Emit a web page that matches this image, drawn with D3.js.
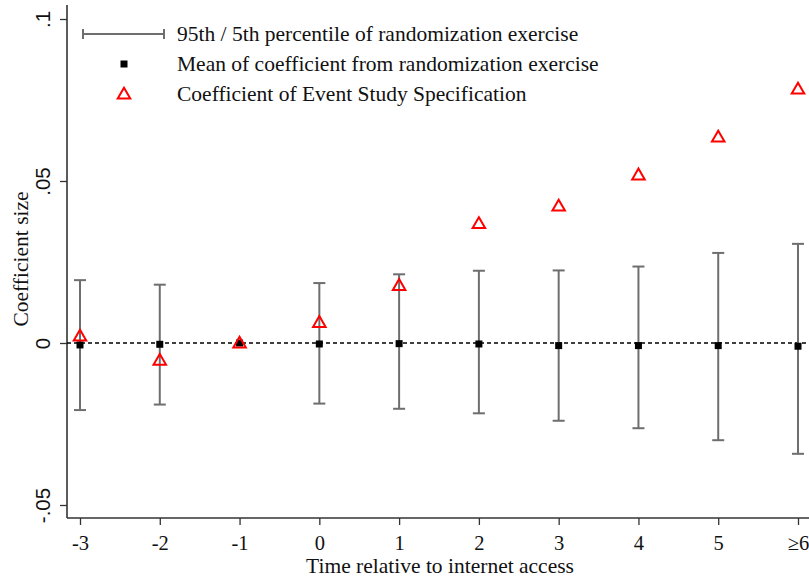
<!DOCTYPE html>
<html>
<head>
<meta charset="utf-8">
<script src="https://cdn.jsdelivr.net/npm/d3@7"></script>
<style>
  html, body { margin: 0; padding: 0; background: #fff; }
  svg { display: block; font-family: "Liberation Serif", "Times New Roman", serif; }
</style>
</head>
<body>
<svg id="chart" width="809" height="578"></svg>
<script>
// Periods relative to internet access
const categories = ["-3", "-2", "-1", "0", "1", "2", "3", "4", "5", "≥6"];
// Randomization exercise: 95th / 5th percentiles and mean coefficient (-1 is the omitted period)
const upper95 = [0.0194, 0.0180, null, 0.0185, 0.0212, 0.0223, 0.0224, 0.0236, 0.0278, 0.0306];
const lower5  = [-0.0207, -0.0190, null, -0.0187, -0.0203, -0.0217, -0.0240, -0.0263, -0.0300, -0.0342];
const meanCoef = [-0.0006, -0.0004, 0, -0.0003, -0.0002, -0.0003, -0.0008, -0.0008, -0.0008, -0.0010];
// Event study coefficients
const eventCoef = [0.0022, -0.0053, 0, 0.0064, 0.0178, 0.0369, 0.0423, 0.0519, 0.0636, 0.0784];
// Y axis ticks
const yTicks = [-0.05, 0, 0.05, 0.1];
const yTickLabels = ["-.05", "0", ".05", ".1"];

const svg = d3.select("#chart");
const W = 809, H = 578;
const axisX = 67, axisY = 518;
const fs = 20.5;
const fsTitle = 21.5;

const x = d3.scalePoint().domain(categories).range([80, 798]);
const y = d3.scaleLinear().domain([-0.05, 0.1]).range([505, 19]);

const axisColor = "#333";
const barColor = "#6e6e6e";

// Y axis
const yAxis = svg.append("g").attr("transform", `translate(${axisX},0)`)
  .call(d3.axisLeft(y).tickValues(yTicks).tickSize(7).tickSizeOuter(0)
    .tickFormat((d, i) => yTickLabels[i]));
yAxis.select(".domain").remove();
yAxis.selectAll(".tick line").attr("stroke", axisColor).attr("stroke-width", 1.3);
yAxis.selectAll(".tick text").remove();
yAxis.selectAll(".tick").append("text")
  .attr("transform", "translate(-17,0) rotate(-90)")
  .attr("text-anchor", "middle")
  .attr("fill", "#111")
  .attr("font-size", fs)
  .text((d, i) => yTickLabels[i]);
svg.append("line").attr("x1", axisX).attr("x2", axisX).attr("y1", 5).attr("y2", axisY)
  .attr("stroke", axisColor).attr("stroke-width", 1.6);

// X axis
const xAxis = svg.append("g").attr("transform", `translate(0,${axisY})`)
  .call(d3.axisBottom(x).tickSize(7).tickSizeOuter(0));
xAxis.select(".domain").remove();
xAxis.selectAll(".tick line").attr("stroke", axisColor).attr("stroke-width", 1.3);
xAxis.selectAll(".tick text").attr("font-size", fs).attr("fill", "#111")
  .attr("font-family", "Liberation Serif").attr("dy", "1.05em");
svg.append("line").attr("x1", axisX).attr("x2", W).attr("y1", axisY).attr("y2", axisY)
  .attr("stroke", axisColor).attr("stroke-width", 1.6);

// Axis titles
svg.append("text").attr("x", 440).attr("y", 573).attr("text-anchor", "middle")
  .attr("font-size", fsTitle).attr("fill", "#111").text("Time relative to internet access");
svg.append("text").attr("transform", "translate(28,259) rotate(-90)").attr("text-anchor", "middle")
  .attr("font-size", fsTitle).attr("fill", "#111").text("Coefficient size");

// Zero reference line
svg.append("line").attr("x1", axisX).attr("x2", W).attr("y1", y(0)).attr("y2", y(0))
  .attr("stroke", "#000").attr("stroke-width", 1.4).attr("stroke-dasharray", "4,3");

// Error bars
const rows = categories.map((c, i) => ({c, hi: upper95[i], lo: lower5[i], m: meanCoef[i], e: eventCoef[i]}));
const capW = 6;
const bars = svg.append("g").selectAll("g").data(rows.filter(d => d.hi !== null)).join("g")
  .attr("stroke", barColor).attr("stroke-width", 2);
bars.append("line").attr("x1", d => x(d.c)).attr("x2", d => x(d.c))
  .attr("y1", d => y(d.hi)).attr("y2", d => y(d.lo));
bars.append("line").attr("x1", d => x(d.c) - capW).attr("x2", d => x(d.c) + capW)
  .attr("y1", d => y(d.hi)).attr("y2", d => y(d.hi));
bars.append("line").attr("x1", d => x(d.c) - capW).attr("x2", d => x(d.c) + capW)
  .attr("y1", d => y(d.lo)).attr("y2", d => y(d.lo));

// Mean markers
const sq = 7;
svg.append("g").selectAll("rect").data(rows).join("rect")
  .attr("x", d => x(d.c) - sq / 2).attr("y", d => y(d.m) - sq / 2)
  .attr("width", sq).attr("height", sq).attr("fill", "#000");

// Event study triangles
const tri = d3.symbol().type(d3.symbolTriangle).size(68);
svg.append("g").selectAll("path").data(rows).join("path")
  .attr("d", tri)
  .attr("transform", d => `translate(${x(d.c)},${y(d.e) + 1})`)
  .attr("fill", "none").attr("stroke", "#ff0000").attr("stroke-width", 2);

// Legend
const lg = svg.append("g").attr("font-size", fsTitle).attr("fill", "#111");
const ly = [34, 64, 94];
lg.append("line").attr("x1", 83).attr("x2", 164).attr("y1", ly[0]).attr("y2", ly[0])
  .attr("stroke", barColor).attr("stroke-width", 2);
[83, 164].forEach(px => lg.append("line").attr("x1", px).attr("x2", px)
  .attr("y1", ly[0] - 5).attr("y2", ly[0] + 5).attr("stroke", barColor).attr("stroke-width", 2));
lg.append("rect").attr("x", 124 - 3.5).attr("y", ly[1] - 3.5).attr("width", sq).attr("height", sq).attr("fill", "#000");
lg.append("path").attr("d", tri).attr("transform", `translate(124,${ly[2] + 1})`)
  .attr("fill", "none").attr("stroke", "#ff0000").attr("stroke-width", 2);
const labels = ["95th / 5th percentile of randomization exercise",
  "Mean of coefficient from randomization exercise",
  "Coefficient of Event Study Specification"];
labels.forEach((t, i) => lg.append("text").attr("x", 177).attr("y", ly[i] + 7).text(t));
</script>
</body>
</html>
